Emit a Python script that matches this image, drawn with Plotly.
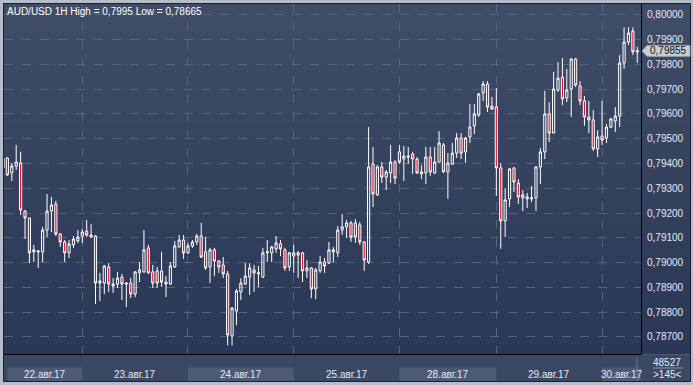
import plotly.graph_objects as go

# ---------------- data (AUD/USD, 1H candles) ----------------
open_ = [0.79382, 0.79422, 0.79362, 0.79390, 0.79402, 0.79208, 0.79180, 0.79043, 0.79047, 0.79043,
         0.79131, 0.79208, 0.79236, 0.79115, 0.79083, 0.79039, 0.79071, 0.79087, 0.79107, 0.79127,
         0.79111, 0.79107, 0.78917, 0.78917, 0.78982, 0.78913, 0.78913, 0.78941, 0.78917, 0.78917,
         0.78873, 0.78958, 0.78962, 0.79059, 0.78962, 0.78966, 0.78966, 0.78921, 0.78913, 0.78982,
         0.79063, 0.79091, 0.79039, 0.79067, 0.79083, 0.79107, 0.79043, 0.78982, 0.79051, 0.79006,
         0.78990, 0.78954, 0.78703, 0.78804, 0.78881, 0.78913, 0.78941, 0.78970, 0.78954, 0.78941,
         0.79039, 0.79039, 0.79055, 0.79075, 0.79051, 0.78982, 0.79026, 0.79030, 0.79039, 0.78966,
         0.78978, 0.78893, 0.78966, 0.79002, 0.78998, 0.79043, 0.79039, 0.79131, 0.79144, 0.79160,
         0.79160, 0.79152, 0.79083, 0.79002, 0.79398, 0.79273, 0.79386, 0.79345, 0.79362, 0.79406,
         0.79447, 0.79418, 0.79430, 0.79438, 0.79418, 0.79358, 0.79362, 0.79426, 0.79362, 0.79406,
         0.79475, 0.79366, 0.79398, 0.79442, 0.79503, 0.79447, 0.79507, 0.79552, 0.79596, 0.79685,
         0.79721, 0.79632, 0.79628, 0.79382, 0.79168, 0.79257, 0.79382, 0.79321, 0.79261, 0.79265,
         0.79257, 0.79261, 0.79386, 0.79447, 0.79600, 0.79523, 0.79697, 0.79749, 0.79665, 0.79701,
         0.79822, 0.79713, 0.79653, 0.79588, 0.79576, 0.79459, 0.79511, 0.79503, 0.79547, 0.79572,
         0.79592, 0.79806, 0.79891, 0.79935, 0.79851]

high = [0.79430, 0.79426, 0.79402, 0.79475, 0.79447, 0.79212, 0.79180, 0.79071, 0.79051, 0.79144,
        0.79277, 0.79265, 0.79249, 0.79119, 0.79091, 0.79091, 0.79107, 0.79131, 0.79135, 0.79172,
        0.79156, 0.79111, 0.78958, 0.78990, 0.78998, 0.78937, 0.78962, 0.78954, 0.78921, 0.78937,
        0.78966, 0.79002, 0.79131, 0.79071, 0.78990, 0.78982, 0.79043, 0.78945, 0.79002, 0.79087,
        0.79111, 0.79111, 0.79079, 0.79091, 0.79115, 0.79160, 0.79103, 0.79059, 0.79059, 0.79010,
        0.79022, 0.78966, 0.78820, 0.78893, 0.78937, 0.78998, 0.78998, 0.78990, 0.78986, 0.79059,
        0.79091, 0.79067, 0.79107, 0.79091, 0.79059, 0.79043, 0.79071, 0.79047, 0.79043, 0.79010,
        0.78982, 0.78978, 0.79026, 0.79018, 0.79083, 0.79063, 0.79148, 0.79196, 0.79172, 0.79168,
        0.79176, 0.79164, 0.79087, 0.79547, 0.79467, 0.79394, 0.79406, 0.79374, 0.79475, 0.79414,
        0.79475, 0.79471, 0.79467, 0.79447, 0.79426, 0.79394, 0.79467, 0.79467, 0.79467, 0.79531,
        0.79483, 0.79442, 0.79483, 0.79523, 0.79523, 0.79507, 0.79640, 0.79640, 0.79685, 0.79733,
        0.79733, 0.79669, 0.79705, 0.79402, 0.79301, 0.79382, 0.79386, 0.79337, 0.79293, 0.79281,
        0.79309, 0.79390, 0.79463, 0.79693, 0.79648, 0.79770, 0.79810, 0.79826, 0.79782, 0.79826,
        0.79826, 0.79733, 0.79673, 0.79653, 0.79616, 0.79535, 0.79653, 0.79560, 0.79584, 0.79628,
        0.79838, 0.79950, 0.79950, 0.79950, 0.79871]

low = [0.79374, 0.79350, 0.79329, 0.79374, 0.79192, 0.79095, 0.78998, 0.79002, 0.78978, 0.79002,
       0.79103, 0.79123, 0.79107, 0.79063, 0.79002, 0.79018, 0.79059, 0.79079, 0.79079, 0.79103,
       0.79099, 0.78832, 0.78844, 0.78873, 0.78881, 0.78877, 0.78897, 0.78848, 0.78820, 0.78856,
       0.78860, 0.78921, 0.78958, 0.78954, 0.78897, 0.78897, 0.78901, 0.78860, 0.78909, 0.78978,
       0.79059, 0.79014, 0.79034, 0.79059, 0.79071, 0.79018, 0.78970, 0.78917, 0.78945, 0.78958,
       0.78937, 0.78665, 0.78665, 0.78747, 0.78848, 0.78909, 0.78869, 0.78881, 0.78901, 0.78937,
       0.79002, 0.79002, 0.79039, 0.79026, 0.78966, 0.78966, 0.78958, 0.78937, 0.78921, 0.78937,
       0.78856, 0.78852, 0.78958, 0.78958, 0.78994, 0.79002, 0.79022, 0.79111, 0.79099, 0.79083,
       0.79079, 0.79071, 0.78966, 0.78994, 0.79224, 0.79269, 0.79321, 0.79293, 0.79321, 0.79317,
       0.79398, 0.79329, 0.79398, 0.79358, 0.79358, 0.79337, 0.79317, 0.79350, 0.79358, 0.79406,
       0.79362, 0.79257, 0.79394, 0.79422, 0.79418, 0.79402, 0.79483, 0.79519, 0.79588, 0.79653,
       0.79608, 0.79616, 0.79269, 0.79055, 0.79103, 0.79224, 0.79285, 0.79236, 0.79208, 0.79220,
       0.79244, 0.79208, 0.79317, 0.79418, 0.79487, 0.79523, 0.79689, 0.79636, 0.79648, 0.79588,
       0.79709, 0.79636, 0.79552, 0.79523, 0.79451, 0.79426, 0.79475, 0.79483, 0.79543, 0.79527,
       0.79547, 0.79782, 0.79879, 0.79838, 0.79806]

close = [0.79422, 0.79354, 0.79390, 0.79406, 0.79212, 0.79180, 0.79039, 0.79051, 0.79043, 0.79131,
         0.79208, 0.79232, 0.79115, 0.79083, 0.79039, 0.79075, 0.79095, 0.79103, 0.79123, 0.79111,
         0.79103, 0.78917, 0.78925, 0.78986, 0.78913, 0.78905, 0.78937, 0.78913, 0.78913, 0.78873,
         0.78962, 0.78970, 0.79051, 0.78958, 0.78917, 0.78917, 0.78921, 0.78913, 0.78986, 0.79067,
         0.79091, 0.79039, 0.79067, 0.79083, 0.79107, 0.79022, 0.78978, 0.79051, 0.79006, 0.78982,
         0.78954, 0.78707, 0.78816, 0.78885, 0.78917, 0.78945, 0.78978, 0.78958, 0.78958, 0.79039,
         0.79043, 0.79063, 0.79079, 0.79055, 0.78978, 0.79039, 0.79039, 0.79039, 0.78966, 0.78978,
         0.78893, 0.78970, 0.79002, 0.78986, 0.79051, 0.79051, 0.79131, 0.79144, 0.79160, 0.79103,
         0.79103, 0.79083, 0.79010, 0.79386, 0.79277, 0.79386, 0.79345, 0.79366, 0.79406, 0.79341,
         0.79406, 0.79430, 0.79426, 0.79418, 0.79362, 0.79366, 0.79426, 0.79366, 0.79406, 0.79483,
         0.79366, 0.79402, 0.79442, 0.79503, 0.79442, 0.79503, 0.79547, 0.79600, 0.79681, 0.79721,
         0.79628, 0.79620, 0.79382, 0.79168, 0.79253, 0.79378, 0.79325, 0.79265, 0.79273, 0.79257,
         0.79261, 0.79386, 0.79447, 0.79600, 0.79523, 0.79701, 0.79745, 0.79661, 0.79697, 0.79822,
         0.79717, 0.79653, 0.79588, 0.79576, 0.79459, 0.79507, 0.79495, 0.79547, 0.79580, 0.79592,
         0.79806, 0.79891, 0.79927, 0.79851, 0.79855]

day_labels = ['22.авг.17', '23.авг.17', '24.авг.17', '25.авг.17', '28.авг.17', '29.авг.17', '30.авг.17']
day_start = [1, 18, 42, 66, 90, 112, 136]          # first bar index of each day
shaded_days = [0, 2, 4, 6]
title_text = 'AUD/USD 1H High = 0,7995 Low = 0,78665'
volume_text = '48527'

# ---------------- layout geometry ----------------
W, H = 693, 385
ML, MR, MT, MB = 4, 52, 4, 31
PW = W - ML - MR
PH = H - MT - MB


def px(x):
    return (x - ML) / PW


def py(y):
    return (H - MB - y) / PH


x_range = [0.23, 144.84]
y_range = [0.786303, 0.800444]
FONT = 'Liberation Sans, Arial, sans-serif'
TXT = '#e4ebf6'

idx = list(range(len(close)))

fig = go.Figure(go.Candlestick(
    x=idx, open=open_, high=high, low=low, close=close,
    increasing=dict(line=dict(color='#ffffff', width=1), fillcolor='rgba(0,0,0,0)'),
    decreasing=dict(line=dict(color='#ffffff', width=1), fillcolor='#e3122c'),
    whiskerwidth=0, hoverinfo='skip', showlegend=False,
))

shapes = []
# vertical gradient background for chart + price axis
top_c = (64, 77, 103)
bot_c = (42, 55, 85)
n = 70
for i in range(n):
    a = 4 + 350 * i / n
    b = 4 + 350 * (i + 1) / n
    t = (i + 0.5) / n
    c = tuple(round(top_c[k] + (bot_c[k] - top_c[k]) * t) for k in range(3))
    shapes.append(dict(type='rect', xref='paper', yref='paper', x0=px(4), x1=px(690),
                       y0=py(b) - 0.002, y1=py(a), fillcolor='rgb(%d,%d,%d)' % c,
                       line=dict(width=0), layer='below'))
# bottom time-axis band
shapes.append(dict(type='rect', xref='paper', yref='paper', x0=px(4), x1=px(690),
                   y0=py(381), y1=py(355), fillcolor='#3b4864', line=dict(width=0), layer='below'))

annotations = []
day_end = day_start[1:] + [x_range[1]]
for i, lab in enumerate(day_labels):
    s, e = day_start[i], day_end[i]
    if i in shaded_days:
        shapes.append(dict(type='rect', xref='x', yref='paper', x0=s, x1=e,
                           y0=py(381), y1=py(367.5), fillcolor='#4d5a75',
                           line=dict(width=0), layer='below'))
    annotations.append(dict(x=(s + e) / 2, y=py(374.5), xref='x', yref='paper', text=lab,
                            showarrow=False, xanchor='center', yanchor='middle',
                            font=dict(family=FONT, size=10, color=TXT)))

# separator in bottom band
shapes.append(dict(type='line', xref='paper', yref='paper', x0=px(637), x1=px(637),
                   y0=py(381), y1=py(357), line=dict(color='#6a7488', width=1)))
# line between volume and bar count
shapes.append(dict(type='line', xref='paper', yref='paper', x0=px(653), x1=px(683),
                   y0=py(368), y1=py(368), line=dict(color='#8c96a8', width=1)))
# outer dark frame
shapes.append(dict(type='rect', xref='paper', yref='paper', x0=px(3.5), x1=px(690.5),
                   y0=py(381.5), y1=py(3.5), line=dict(color='#1b2130', width=1),
                   fillcolor='rgba(0,0,0,0)', layer='above'))

# current price tag
last = close[-1]
hh = 5.5 / PH * (y_range[1] - y_range[0])
xt, x1, x2 = px(642), px(647), px(690)
path = 'M %f,%f L %f,%f L %f,%f L %f,%f L %f,%f Z' % (
    xt, last, x1, last + hh, x2, last + hh, x2, last - hh, x1, last - hh)
shapes.append(dict(type='path', xref='paper', yref='y', path=path,
                   fillcolor='#c9cdd4', line=dict(color='#9aa0aa', width=1), layer='above'))
annotations.append(dict(x=px(668.5), y=last, xref='paper', yref='y',
                        text=('%.5f' % last).replace('.', ','), showarrow=False,
                        xanchor='center', yanchor='middle',
                        font=dict(family=FONT, size=10, color='#101010')))

# title
annotations.append(dict(x=px(5), y=py(11), xref='paper', yref='paper', text=title_text,
                        showarrow=False, xanchor='left', yanchor='middle',
                        font=dict(family=FONT, size=10, color='#ffffff')))
# volume / bar count
annotations.append(dict(x=px(667), y=py(362), xref='paper', yref='paper', text=volume_text,
                        showarrow=False, xanchor='center', yanchor='middle',
                        font=dict(family=FONT, size=10, color=TXT)))
annotations.append(dict(x=px(667), y=py(374.5), xref='paper', yref='paper',
                        text='&gt;%d&lt;' % len(close),
                        showarrow=False, xanchor='center', yanchor='middle',
                        font=dict(family=FONT, size=10, color=TXT)))

fig.update_layout(
    width=W, height=H,
    margin=dict(l=ML, r=MR, t=MT, b=MB, pad=0),
    paper_bgcolor='#b6bdc8', plot_bgcolor='rgba(0,0,0,0)',
    separators=', ',
    shapes=shapes, annotations=annotations,
    font=dict(family=FONT, size=10, color=TXT),
    xaxis=dict(range=x_range, rangeslider=dict(visible=False), tickmode='array',
               tickvals=day_start[1:], showticklabels=False, ticks='',
               showgrid=True, gridcolor='#56647f', griddash='dash', gridwidth=1,
               zeroline=False, showline=True, linecolor='#000000', linewidth=1, mirror=True),
    yaxis=dict(range=y_range, side='right', tickmode='linear', tick0=0, dtick=0.001,
               tickformat='.5f', ticks='', ticklabelstandoff=3,
               tickfont=dict(family=FONT, size=10, color=TXT),
               showgrid=True, gridcolor='#56647f', griddash='dash', gridwidth=1,
               zeroline=False, showline=True, linecolor='#000000', linewidth=1, mirror=True),
    hovermode=False,
)

fig.write_html('out.html', config={'displayModeBar': False},
               post_script="document.body.style.margin='0';document.body.style.overflow='hidden';")
